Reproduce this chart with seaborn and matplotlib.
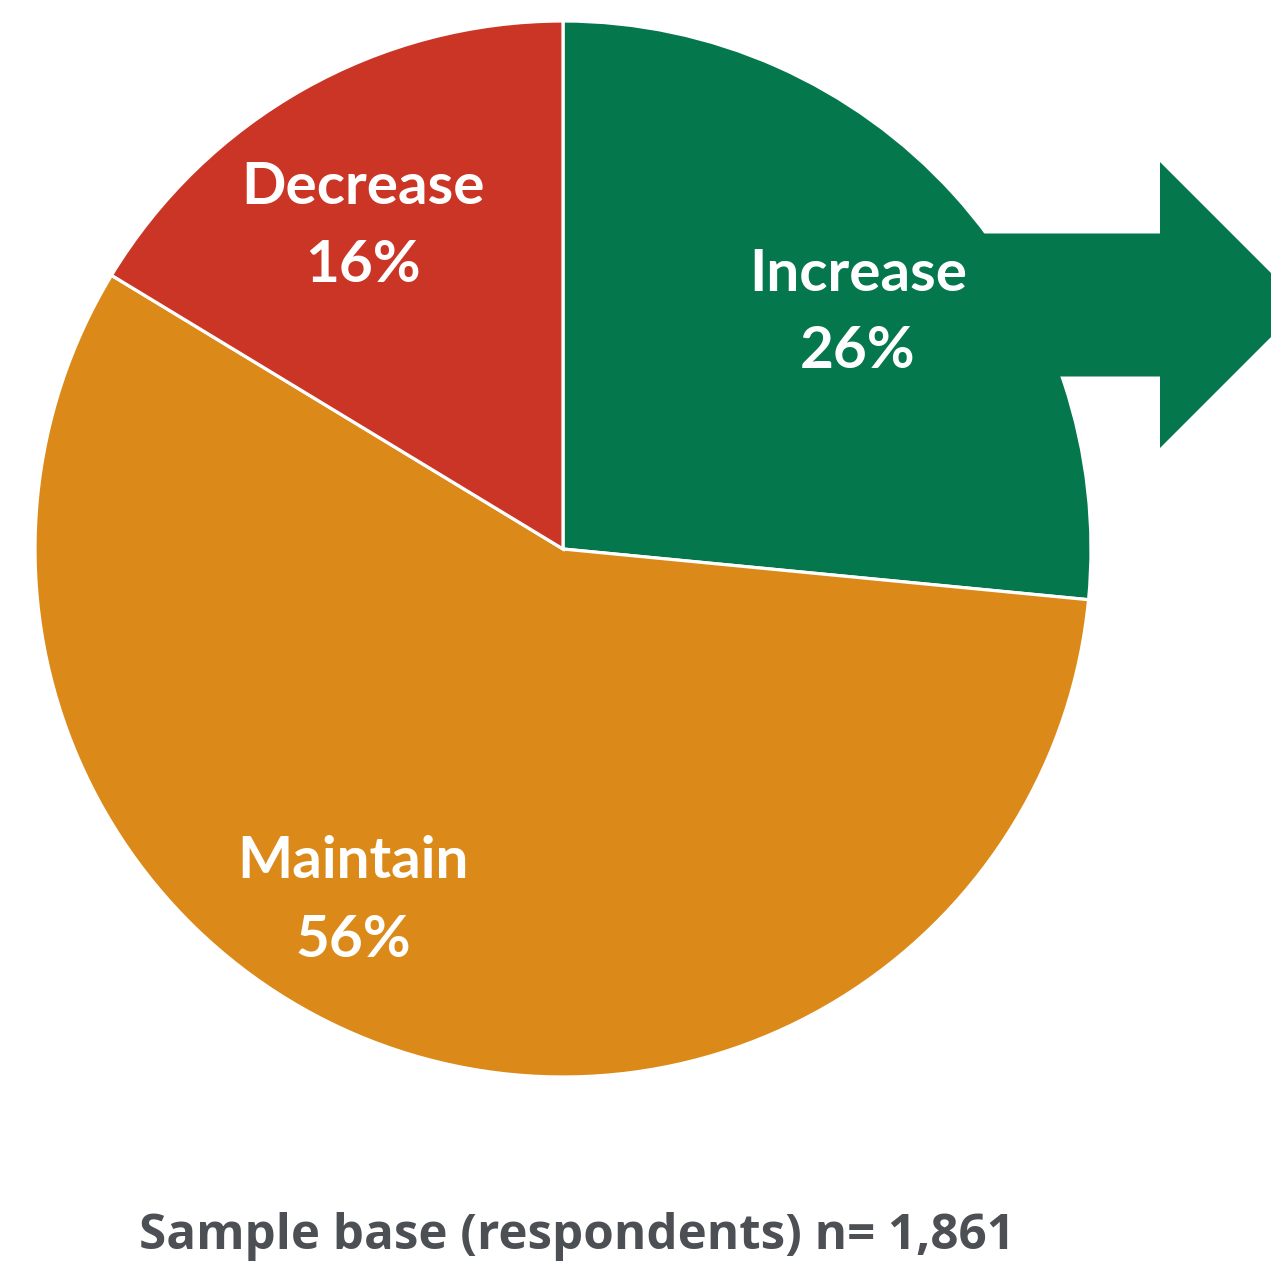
import matplotlib
matplotlib.use("Agg")
import matplotlib.pyplot as plt
from matplotlib.patches import FancyArrow
import seaborn as sns

# Share of respondents by planned change
categories = ["Increase", "Maintain", "Decrease"]
shares = [26, 56, 16]
colors = ["#05774D", "#DB8A1A", "#CB3526"]
sample_note = "Sample base (respondents) n= 1,861"

sns.set_theme(style="white")
plt.rcParams["font.family"] = ["Lato", "DejaVu Sans"]

W, H = 1271, 1263
fig = plt.figure(figsize=(W / 100, H / 100), dpi=100)
ax = fig.add_axes([0, 0, 1, 1])

cx, cy, r = 563, H - 549, 528
ax.pie(
    shares,
    colors=colors,
    startangle=90,
    counterclock=False,
    center=(cx, cy),
    radius=r,
    wedgeprops=dict(edgecolor="white", linewidth=2.3),
    frame=True,
)
ax.set_xlim(0, W)
ax.set_ylim(0, H)
ax.set_aspect("equal")
ax.axis("off")

# Growth arrow coming out of the "Increase" slice
arrow = FancyArrow(
    977, H - 305, 326, 0,
    width=143, head_width=286, head_length=143,
    length_includes_head=True, color=colors[0], linewidth=0, zorder=3,
)
ax.add_patch(arrow)

# (x centre, baseline of name, baseline of percentage)
label_pos = {
    "Increase": (858, 291, 368),
    "Maintain": (353, 878, 957),
    "Decrease": (363, 204, 282),
}
for cat, val in zip(categories, shares):
    x, y1, y2 = label_pos[cat]
    ax.text(x, H - y1, cat, ha="center", va="baseline", color="white",
            fontsize=42, fontweight="bold", zorder=5)
    ax.text(x, H - y2, f"{val}%", ha="center", va="baseline", color="white",
            fontsize=42, fontweight="bold", zorder=5)

ax.text(577, H - 1249, sample_note, ha="center", va="baseline", color="#4C4F54",
        fontsize=35.5, fontweight="bold", family=["Open Sans", "DejaVu Sans"])

fig.savefig("out.png", dpi=100)
